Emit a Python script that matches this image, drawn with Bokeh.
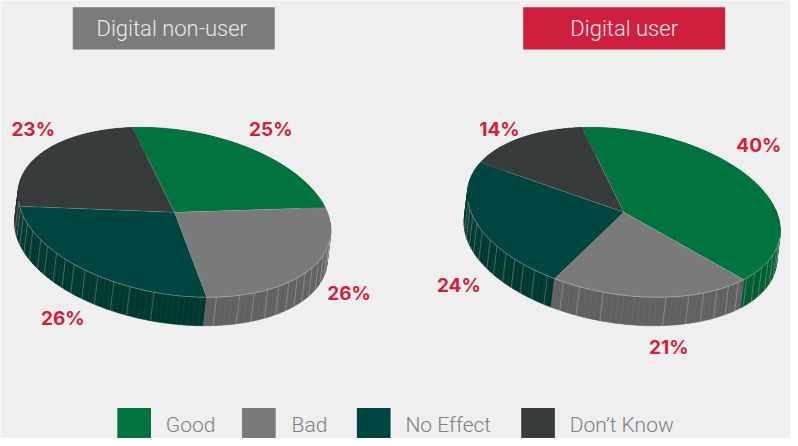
import numpy as np
from bokeh.plotting import figure
from bokeh.models import Range1d
from bokeh.core.properties import value
from bokeh.embed import file_html
from bokeh.resources import INLINE

categories = ["Good", "Bad", "No Effect", "Don\u2019t Know"]
non_user = [25, 26, 26, 23]
user = [40, 21, 24, 14]
panel_titles = ["Digital non-user", "Digital user"]

TOP = ["#00733e", "#7a7a7a", "#00453f", "#373b3b"]
WALL = ["#005a30", "#616161", "#003830", "#2b2e2e"]
BG = "#efefef"
RED = "#cf1f3f"
LABEL_FONT = value("Inter")
THIN_FONT = value("Roboto Light")

A, SKEW, B = 158.0, 18.5, 84.5
DX, DY = -3.5, 29.0
START = 105.5
RIBS = [-2, -7, -12.5, -17.7, -22.9, -28.3, -33.3, -38.2, -43, -48, -53.4, -59.3, -65.4, -74.4,
        -97.5, -106.5, -112.8, -119.3, -124.8, -129.8, -134.2, -138.9, -144.2, -148.7, -154.9, -160, -165, -170, -175]

p = figure(width=790, height=438, x_range=Range1d(0, 798), y_range=Range1d(446, 0),
           output_backend="svg", toolbar_location=None, min_border=0,
           background_fill_color=BG, border_fill_color=BG, outline_line_color=None,
           margin=(0, 0, -8, 0))
p.axis.visible = False
p.grid.visible = False


def rim(cx, cy, deg):
    t = np.radians(deg)
    return cx + A * np.cos(t), cy + SKEW * np.cos(t) - B * np.sin(t)


def slices(values):
    total = sum(values)
    a = START
    out = []
    for v in values:
        sweep = 360.0 * v / total
        out.append((a, a - sweep))
        a -= sweep
    return out


def pie(cx, cy, values, label_xy):
    parts = slices(values)
    facets = []
    for i, (a0, a1) in enumerate(parts):
        edges = np.arange(a0, a1 - 2.0, -2.0)
        edges = np.append(edges[edges > a1], a1)
        for e0, e1 in zip(edges[:-1], edges[1:]):
            x0, y0 = rim(cx, cy, e0)
            x1, y1 = rim(cx, cy, e1)
            facets.append(((y0 + y1) / 2, [x0, x1, x1 + DX, x0 + DX], [y0, y1, y1 + DY, y0 + DY], WALL[i]))
    facets.sort(key=lambda f: f[0])
    p.patches([f[1] for f in facets], [f[2] for f in facets], fill_color=[f[3] for f in facets],
              line_color=[f[3] for f in facets], line_width=0.6)
    for r in RIBS:
        x, y = rim(cx, cy, r)
        p.line([x, x + DX], [y, y + DY], line_color="#ffffff", line_alpha=0.35, line_width=0.7)
    for i, (a0, a1) in enumerate(parts):
        d = np.linspace(a0, a1, 90)
        x, y = rim(cx, cy, d)
        p.patch(np.r_[cx, x], np.r_[cy, y], fill_color=TOP[i], line_color=None)
    for a0, _ in parts:
        x, y = rim(cx, cy, a0)
        p.line([cx, x], [cy, y], line_color="#ffffff", line_alpha=0.22, line_width=0.6)
    d = np.linspace(-5, -175, 120)
    x, y = rim(cx, cy, d)
    p.line(x, y, line_color="#ffffff", line_alpha=0.45, line_width=0.7)
    p.text([q[0] for q in label_xy], [q[1] for q in label_xy], text=[f"{v}%" for v in values],
           text_color=RED, text_font=LABEL_FONT, text_font_style="bold", text_font_size="19px",
           text_align="center", text_baseline="middle")


pie(175.7, 215.7, non_user, [(273, 131), (352, 298), (63, 324), (33, 131)])
pie(629.7, 215.7, user, [(766, 148), (675, 353), (463, 290), (504, 131)])

p.quad(left=[73, 528], right=[277, 732], top=[7, 7], bottom=[50, 50],
       fill_color=["#7b7b7b", RED], line_color=None)
p.text([173, 630], [29, 29], text=panel_titles, text_color="#e8e8e8", text_font=THIN_FONT,
       text_font_size="22px", text_align="center", text_baseline="middle")

sw = [118, 244, 360, 526]
p.quad(left=sw, right=[s + 34 for s in sw], top=[415] * 4, bottom=[446] * 4, fill_color=TOP, line_color=None)
p.text([167, 294, 409, 575], [432] * 4, text=categories,
       text_color="#808080", text_font=THIN_FONT, text_font_size="21px",
       text_align="left", text_baseline="middle")

open("out.html", "w").write(file_html(p, INLINE))
